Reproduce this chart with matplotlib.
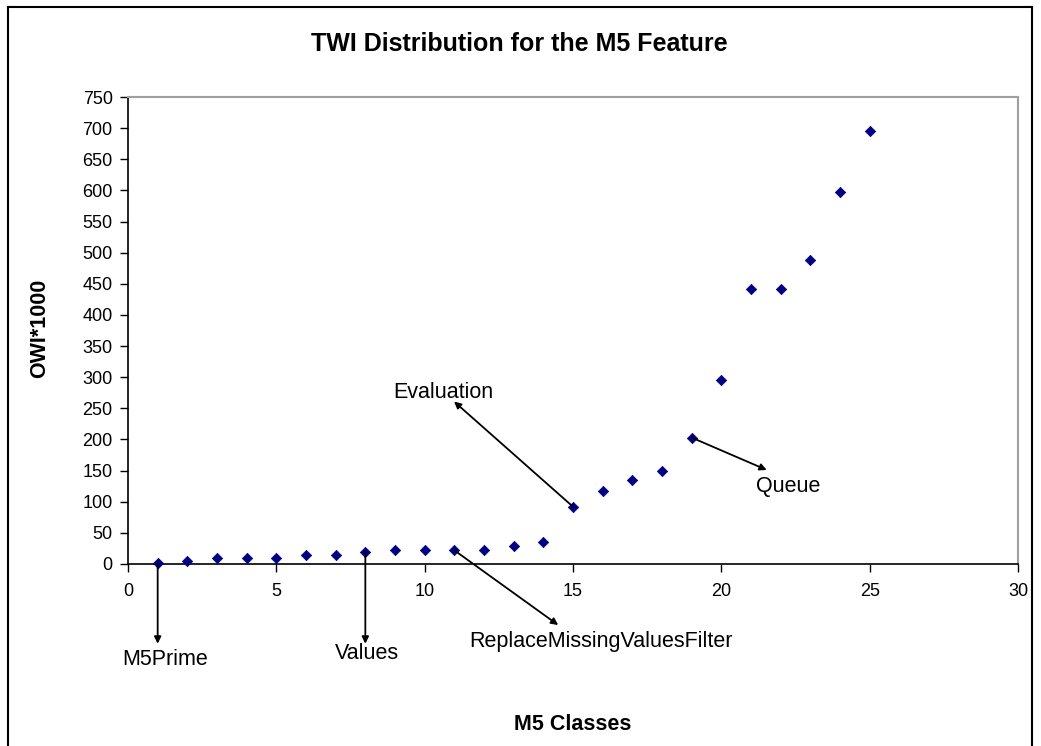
import matplotlib
matplotlib.use("Agg")
import matplotlib.pyplot as plt
from matplotlib.lines import Line2D

plt.rcParams['font.family'] = ['Liberation Sans', 'DejaVu Sans']

# ---- data ----
classes = list(range(1, 26))
owi = [1, 5, 10, 10, 10, 14, 14, 19, 22, 22, 22, 22, 29, 36, 92,
       118, 135, 150, 203, 296, 441, 441, 488, 597, 696]
x_ticks = [0, 5, 10, 15, 20, 25, 30]
y_ticks = list(range(0, 751, 50))

# annotations: label, class of the pointed point, arrow head (data), text position (data)
ann_labels = ["M5Prime", "Values", "ReplaceMissingValuesFilter", "Evaluation", "Queue"]
ann_class = [1, 8, 11, 15, 19]
ann_head = [(1.0, -128), (8.0, -128), (14.5, -98), (10.99, 261), (21.53, 151)]
ann_text = [(1.26, -154), (8.07, -143), (15.94, -124), (10.62, 275), (22.24, 125)]

W, H = 1041, 746
fig = plt.figure(figsize=(W / 100, H / 100), dpi=100)
fig.patch.set_facecolor('white')

left, right, top, bottom = 128, 1018, 97, 564
ax = fig.add_axes([left / W, 1 - bottom / H, (right - left) / W, (bottom - top) / H])

ax.scatter(classes, owi, marker='D', s=28, color='#000080', edgecolors='#000080',
           linewidths=0.5, zorder=3, clip_on=False)

ax.set_xlim(0, 30)
ax.set_ylim(0, 750)
ax.set_xticks(x_ticks)
ax.set_yticks(y_ticks)
ax.tick_params(axis='both', direction='out', length=6, width=1, color='black',
               labelsize=13, pad=5)
ax.tick_params(axis='x', pad=8)

for s in ['left', 'bottom']:
    ax.spines[s].set_color('black')
    ax.spines[s].set_linewidth(1.2)
for s in ['top', 'right']:
    ax.spines[s].set_color('#a0a0a0')
    ax.spines[s].set_linewidth(1.5)

for lab, c, head, txt in zip(ann_labels, ann_class, ann_head, ann_text):
    ax.annotate('', xy=head, xytext=(c, owi[c - 1]), xycoords='data', textcoords='data',
                annotation_clip=False,
                arrowprops=dict(arrowstyle='-|>', color='black', lw=1.3,
                                mutation_scale=10, shrinkA=0, shrinkB=0))
    ax.text(txt[0], txt[1], lab, fontsize=15.5, ha='center', va='center',
            clip_on=False, color='black')

fig.text(519 / W, 1 - 44 / H, "TWI Distribution for the M5 Feature",
         fontsize=18, fontweight='bold', ha='center', va='center')
fig.text(573 / W, 1 - 724 / H, "M5 Classes", fontsize=15.5, fontweight='bold',
         ha='center', va='center')
fig.text(40 / W, 1 - 328 / H, "OWI*1000", fontsize=15.5, fontweight='bold',
         ha='center', va='center', rotation=90)

# outer chart border
for xs, ys in [([8, 8], [7, H + 5]), ([8, 1032], [7, 7]), ([1032, 1032], [7, H + 5])]:
    fig.add_artist(Line2D([x / W for x in xs], [1 - y / H for y in ys],
                          transform=fig.transFigure, color='black', lw=1.5))

fig.savefig('out.png', dpi=100)
